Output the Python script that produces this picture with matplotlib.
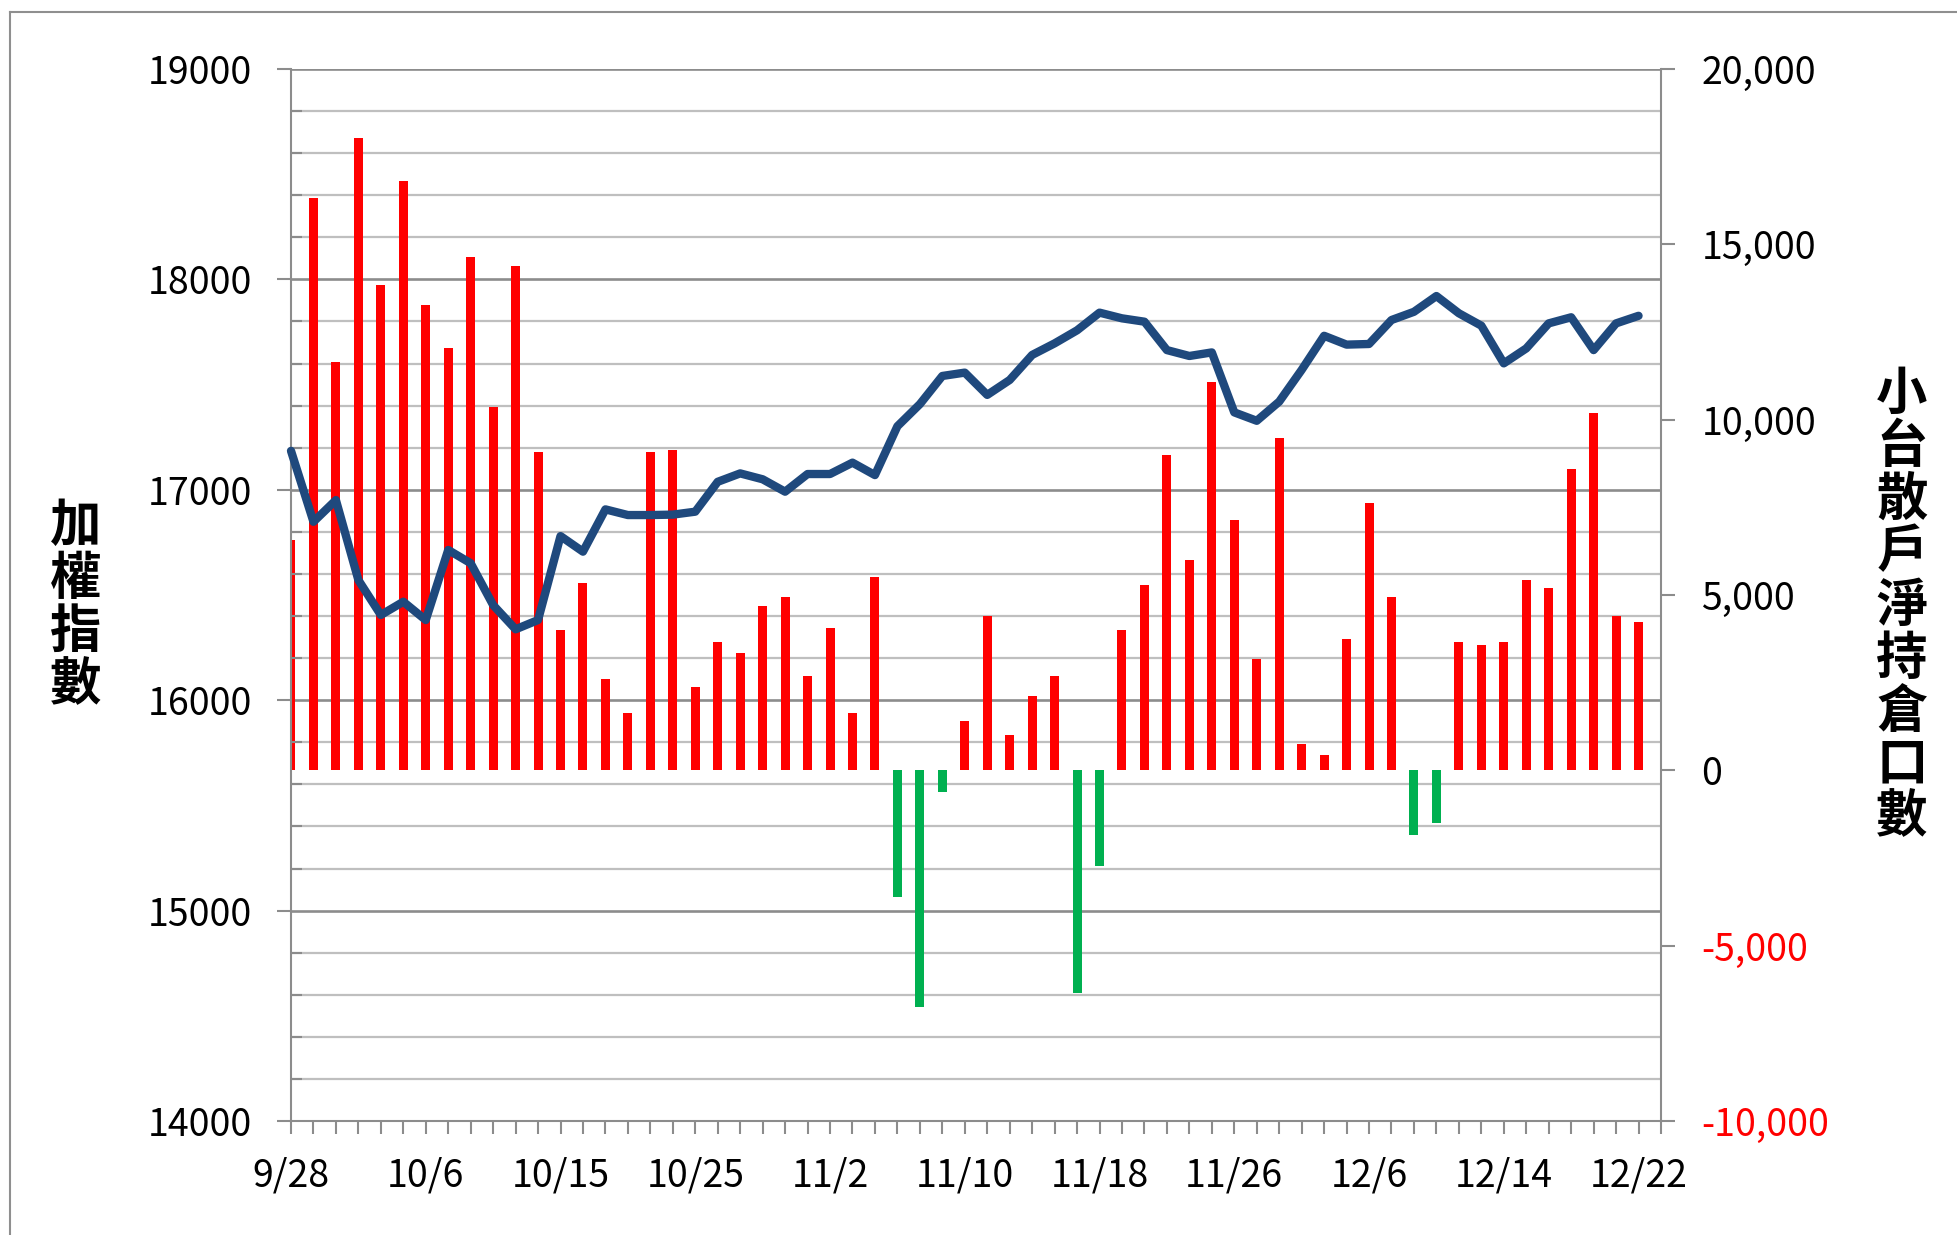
import matplotlib.pyplot as plt
from matplotlib.lines import Line2D
from matplotlib.ticker import MultipleLocator

plt.rcParams['font.family'] = ['Noto Sans CJK TC', 'DejaVu Sans']
plt.rcParams['font.weight'] = 'medium'

# x tick labels, one every 6 trading days
TICK_LABELS = ['9/28', '10/6', '10/15', '10/25', '11/2', '11/10',
               '11/18', '11/26', '12/6', '12/14', '12/22']

# 加權指數 (left axis)
TAIEX = [17185, 16848, 16951, 16571, 16405, 16468, 16381, 16714, 16651, 16452,
         16337, 16381, 16780, 16706, 16907, 16880, 16880, 16882, 16896, 17038,
         17078, 17050, 16991, 17075, 17075, 17129, 17070, 17302, 17407, 17541,
         17557, 17451, 17522, 17641, 17696, 17758, 17842, 17815, 17799, 17664,
         17636, 17653, 17368, 17328, 17419, 17570, 17732, 17690, 17693, 17807,
         17846, 17921, 17839, 17780, 17601, 17672, 17791, 17820, 17664, 17791,
         17827]

# 小台散戶淨持倉口數 (right axis)
RETAIL_NET = [6570, 16330, 11650, 18030, 13830, 16810, 13270, 12050, 14630, 10360,
              14390, 9070, 3990, 5350, 2610, 1640, 9070, 9140, 2380, 3660,
              3340, 4700, 4950, 2690, 4070, 1640, 5510, -3600, -6740, -610,
              1410, 4390, 1010, 2130, 2690, -6340, -2720, 3990, 5280, 8990,
              6000, 11080, 7130, 3170, 9470, 760, 440, 3750, 7610, 4950,
              -1840, -1490, 3660, 3580, 3660, 5440, 5200, 8580, 10200, 4390,
              4230]

RIGHT_TICKS = [-10000, -5000, 0, 5000, 10000, 15000, 20000]

GRAY = '#8C8C8C'
W, H = 1957, 1235

fig = plt.figure(figsize=(W / 100, H / 100), dpi=100)
ax = fig.add_axes([291 / W, 1 - 1121 / H, 1370 / W, 1052 / H])
ax2 = ax.twinx()
ax.set_zorder(ax2.get_zorder() + 1)
ax.patch.set_visible(False)

x = list(range(len(TAIEX)))
ax.set_xlim(0, 61)
ax.set_ylim(14000, 19000)
ax2.set_ylim(-10000, 20000)

# gridlines follow the left scale but sit under the bars
grid_major = list(range(14000, 19001, 1000))
grid_minor = [v for v in range(14200, 19000, 200) if v % 1000]
ytrans = ax.get_yaxis_transform()
ax2.hlines(grid_minor, 0, 1, transform=ytrans, colors='#BFBFBF', lw=1.6, zorder=1)
ax2.hlines(grid_major, 0, 1, transform=ytrans, colors=GRAY, lw=1.9, zorder=1)

colors = ['#FF0000' if v >= 0 else '#00B050' for v in RETAIL_NET]
ax2.bar(x, RETAIL_NET, width=0.4, color=colors, zorder=3)

ax.plot(x, TAIEX, color='#1F497D', lw=6, solid_capstyle='round',
        solid_joinstyle='round', zorder=5, clip_on=False)

# left axis
ax.yaxis.set_major_locator(MultipleLocator(1000))
ax.yaxis.set_minor_locator(MultipleLocator(200))
ax.tick_params(axis='y', which='major', direction='out', length=10, width=1.5,
               color=GRAY, labelsize=27, pad=18)
ax.tick_params(axis='y', which='minor', direction='in', length=8, width=1.5, color=GRAY)

# x axis
ax.set_xticks(range(0, 61, 6), TICK_LABELS)
ax.set_xticks(range(0, 62), minor=True)
ax.tick_params(axis='x', which='both', direction='out', length=9.5, width=1.5,
               color=GRAY, labelsize=27, pad=16)

# right axis
ax2.set_yticks(RIGHT_TICKS, [f'{v:,}' for v in RIGHT_TICKS])
ax2.tick_params(axis='y', direction='out', length=10, width=1.5, color=GRAY,
                labelsize=27, pad=19)
for lbl, v in zip(ax2.get_yticklabels(), RIGHT_TICKS):
    if v < 0:
        lbl.set_color('#FF0000')

for s in ['top', 'right']:
    ax.spines[s].set_visible(False)
for s in ['top', 'left', 'bottom']:
    ax2.spines[s].set_visible(False)
for sp in [ax.spines['left'], ax.spines['bottom'], ax2.spines['right']]:
    sp.set_color(GRAY)
    sp.set_linewidth(1.5)

fig.text(76 / W, 1 - 605 / H, '\n'.join('加權指數'), ha='center', va='center',
         fontsize=37, linespacing=1.0, fontweight='bold')
fig.text(1902 / W, 1 - 605 / H, '\n'.join('小台散戶淨持倉口數'), ha='center',
         va='center', fontsize=37, linespacing=1.0, fontweight='bold')

# outer chart frame (cut off at right and bottom)
fig.add_artist(Line2D([10 / W, 10 / W], [0, 1 - 12 / H], transform=fig.transFigure,
                      color='#8F8F8F', lw=1.5))
fig.add_artist(Line2D([10 / W, 1], [1 - 12 / H, 1 - 12 / H], transform=fig.transFigure,
                      color='#8F8F8F', lw=1.5))

fig.savefig('out.png', dpi=100)
